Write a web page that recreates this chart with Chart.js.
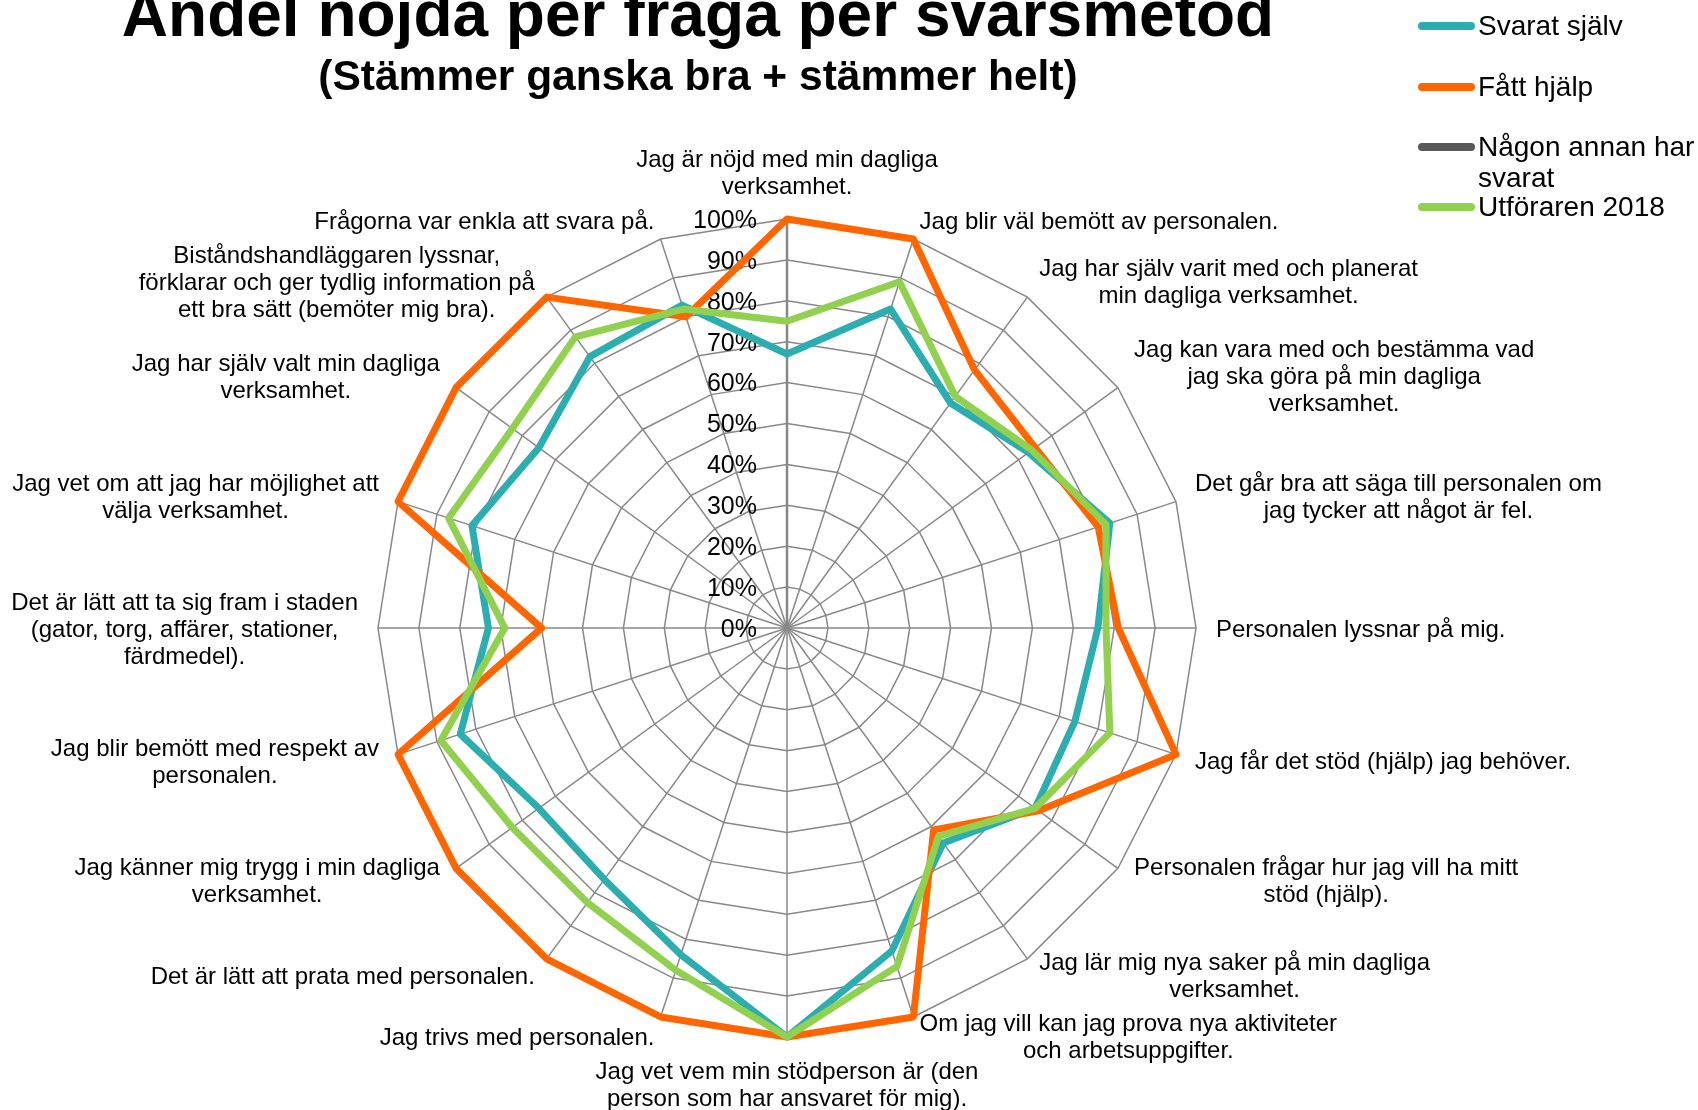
<!DOCTYPE html>
<html>
<head>
<meta charset="utf-8">
<script src="https://cdn.jsdelivr.net/npm/chart.js@4.4.1/dist/chart.umd.min.js"></script>
<style>
  html, body { margin: 0; padding: 0; background: #fff; }
  #wrap { position: relative; width: 1698px; height: 1110px; overflow: hidden; font-family: "Liberation Sans", Arial, sans-serif; color: #000; }
  #chart { position: absolute; left: 0; top: 0; }
  .title { position: absolute; left: 0; width: 1396px; text-align: center; font-weight: bold; white-space: nowrap; }
  #t1 { top: -18px; font-size: 64px; line-height: 64px; }
  #t2 { top: 55px; font-size: 42.5px; line-height: 42.5px; }
  .lg-line { position: absolute; left: 1418px; width: 57px; height: 8px; border-radius: 4px; }
  .lg-text { position: absolute; left: 1478px; font-size: 28px; line-height: 31px; white-space: nowrap; }
</style>
</head>
<body>
<div id="wrap">
  <canvas id="chart" width="1698" height="1110"></canvas>
  <div class="title" id="t1">Andel nöjda per fråga per svarsmetod</div>
  <div class="title" id="t2">(Stämmer ganska bra + stämmer helt)</div>
  <div id="legend"></div>
</div>
<script>
// frågor, medurs från toppen (en rad per textrad)
const categories = [
  ['Jag är nöjd med min dagliga', 'verksamhet.'],
  ['Jag blir väl bemött av personalen.'],
  ['Jag har själv varit med och planerat', 'min dagliga verksamhet.'],
  ['Jag kan vara med och bestämma vad', 'jag ska göra på min dagliga', 'verksamhet.'],
  ['Det går bra att säga till personalen om', 'jag tycker att något är fel.'],
  ['Personalen lyssnar på mig.'],
  ['Jag får det stöd (hjälp) jag behöver.'],
  ['Personalen frågar hur jag vill ha mitt', 'stöd (hjälp).'],
  ['Jag lär mig nya saker på min dagliga', 'verksamhet.'],
  ['Om jag vill kan jag prova nya aktiviteter', 'och arbetsuppgifter.'],
  ['Jag vet vem min stödperson är (den', 'person som har ansvaret för mig).'],
  ['Jag trivs med personalen.'],
  ['Det är lätt att prata med personalen.'],
  ['Jag känner mig trygg i min dagliga', 'verksamhet.'],
  ['Jag blir bemött med respekt av', 'personalen.'],
  ['Det är lätt att ta sig fram i staden', '(gator, torg, affärer, stationer,', 'färdmedel).'],
  ['Jag vet om att jag har möjlighet att', 'välja verksamhet.'],
  ['Jag har själv valt min dagliga', 'verksamhet.'],
  ['Biståndshandläggaren lyssnar,', 'förklarar och ger tydlig information på', 'ett bra sätt (bemöter mig bra).'],
  ['Frågorna var enkla att svara på.']
];

const svaratSjalv   = [67, 82, 68, 73, 83, 76, 74, 75, 65, 83, 100, 84, 76, 75, 84, 73, 81, 75, 82, 83];
const fattHjalp     = [100, 100, 78, 75, 80, 81, 100, 76, 61, 100, 100, 100, 100, 100, 100, 60, 100, 100, 100, 80];
const nagonAnnan    = [];
const utforaren2018 = [75, 89, 70, 74, 82, 78, 83, 75, 63, 87, 100, 88, 83, 83, 89, 69, 87, 83, 88, 82];

const seriesNames  = ['Svarat själv', 'Fått hjälp', 'Någon annan har<br>svarat', 'Utföraren 2018'];
const seriesColors = ['#2CAEB0', '#FF6600', '#595959', '#92D050'];
const seriesData   = [svaratSjalv, fattHjalp, nagonAnnan, utforaren2018];
const legendY      = [26, 87, 147, 207];

// legend
const legend = document.getElementById('legend');
seriesNames.forEach((name, i) => {
  const line = document.createElement('div');
  line.className = 'lg-line';
  line.style.background = seriesColors[i];
  line.style.top = (legendY[i] - 4) + 'px';
  legend.appendChild(line);
  const txt = document.createElement('div');
  txt.className = 'lg-text';
  txt.innerHTML = name;
  txt.style.top = (legendY[i] - 16) + 'px';
  legend.appendChild(txt);
});

const FONT = '"Liberation Sans", Arial, sans-serif';

const tickLabels = {
  id: 'tickLabels',
  beforeDatasetsDraw(chart) {
    const scale = chart.scales.r;
    const ctx = chart.ctx;
    ctx.save();
    ctx.font = '25px ' + FONT;
    ctx.fillStyle = '#000';
    ctx.textAlign = 'right';
    ctx.textBaseline = 'middle';
    scale.ticks.forEach(t => {
      const d = scale.getDistanceFromCenterForValue(t.value);
      ctx.fillText(t.label, scale.xCenter - 30, scale.yCenter - d + 2);
    });
    ctx.restore();
  }
};

// kategorietiketter, centrerade rader som i Excel
const pointLabels = {
  id: 'pointLabels',
  afterDraw(chart) {
    const scale = chart.scales.r;
    const ctx = chart.ctx;
    const lineH = 27;
    ctx.save();
    ctx.font = '24px ' + FONT;
    ctx.fillStyle = '#000';
    ctx.textAlign = 'center';
    ctx.textBaseline = 'middle';
    const n = chart.data.labels.length;
    chart.data.labels.forEach((lines, i) => {
      const p = scale.getPointPosition(i, scale.drawingArea + 20);
      const w = Math.max(...lines.map(l => ctx.measureText(l).width));
      const h = lines.length * lineH;
      let cx, top;
      if (i === 0) { cx = p.x; top = p.y - h; }
      else if (i === n / 2) { cx = p.x; top = p.y; }
      else if (i < n / 2) { cx = p.x + w / 2; top = p.y - h / 2; }
      else { cx = p.x - w / 2; top = p.y - h / 2; }
      lines.forEach((l, k) => ctx.fillText(l, cx, top + lineH * (k + 0.5) + 2));
    });
    ctx.restore();
  }
};

new Chart(document.getElementById('chart'), {
  type: 'radar',
  data: {
    labels: categories,
    datasets: seriesData.map((d, i) => ({
      label: seriesNames[i].replace('<br>', ' '),
      data: d,
      borderColor: seriesColors[i],
      backgroundColor: seriesColors[i],
      borderWidth: 7,
      borderJoinStyle: 'round',
      borderCapStyle: 'round',
      pointRadius: 0,
      fill: false,
      tension: 0,
      order: 4 - i
    }))
  },
  options: {
    responsive: false,
    animation: false,
    layout: { padding: { left: 378, right: 502, top: 219, bottom: 73 } },
    plugins: {
      legend: { display: false },
      tooltip: { enabled: false }
    },
    scales: {
      r: {
        min: 0,
        max: 100,
        ticks: { stepSize: 10, display: false, callback: v => v + '%' },
        pointLabels: { display: false },
        grid: { color: '#888888', lineWidth: 1.5 },
        angleLines: {
          color: '#888888',
          lineWidth: ctx => ctx.index === 0 ? 2.5 : 1.5
        }
      }
    }
  },
  plugins: [tickLabels, pointLabels]
});
</script>
</body>
</html>
